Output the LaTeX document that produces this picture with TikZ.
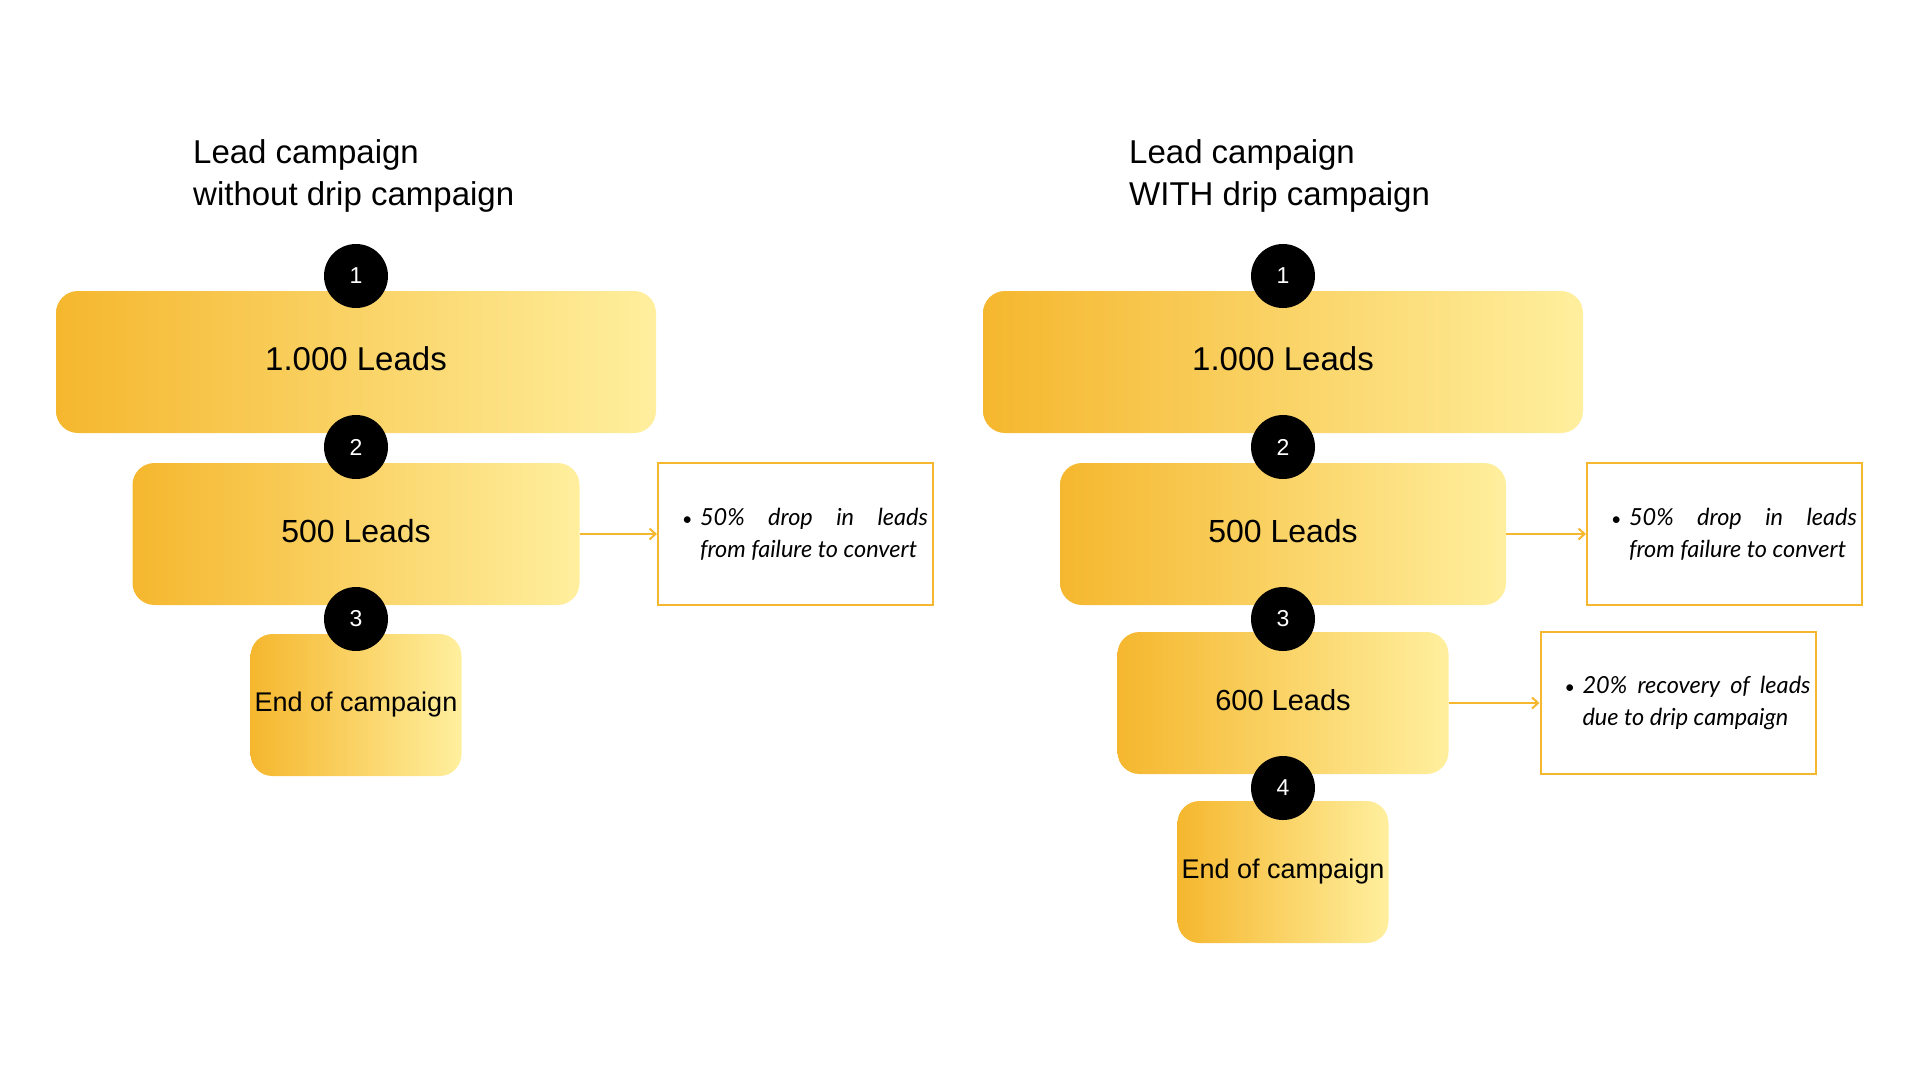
\documentclass[tikz,border=0pt]{standalone}
\usepackage{fontspec}
\setmainfont{Liberation Sans}
\newfontfamily\notefont{Lato}
\usetikzlibrary{arrows.meta}
\definecolor{leadorange}{RGB}{245,183,46}
\definecolor{leadyellow}{RGB}{255,239,158}
\newcommand{\notedot}{\makebox[18pt][l]{\fontsize{18}{18}\selectfont\textbullet}}

\begin{document}
\begin{tikzpicture}[x=1pt,y=-1pt]
\tikzstyle{every node}+=[inner sep=0pt]
\tikzstyle{stage}=[rounded corners=22pt, left color=leadorange, right color=leadyellow, text=black, minimum height=142pt]
\tikzstyle{leads}=[stage, text depth=7pt]
\tikzstyle{num}=[circle, fill=black, text=white, minimum size=64pt, font=\fontsize{23}{28}\selectfont]
\tikzstyle{note}=[draw=leadorange, line width=2pt, minimum width=275pt, minimum height=142pt, font=\notefont\itshape\fontsize{23.5}{32}\selectfont]
\tikzstyle{flow}=[draw=leadorange, line width=2pt, -{Straight Barb[length=6pt,width=11pt]}]
\tikzstyle{heading}=[anchor=base west, align=left, font=\fontsize{33}{42}\selectfont]
\useasboundingbox (0,0) rectangle (1920,1080);
\node[heading] (titleA) at (193,205) {Lead campaign\\without drip campaign};
\node[leads, minimum width=600pt, font=\fontsize{33}{40}\selectfont] (leadsA) at (356,362) {1.000 Leads};
\node[leads, minimum width=447pt, font=\fontsize{32}{40}\selectfont] (fiveA) at (356,534) {500 Leads};
\node[stage, minimum width=211pt, font=\fontsize{27}{34}\selectfont] (endA) at (356,705) {End of campaign};
\node[note] (dropA) at (795.5,534) {\hspace{19pt}\parbox{246pt}{\hangindent=18pt\hangafter=1\noindent\notedot 50\% drop in leads\linebreak from failure to convert}};
\draw[flow] (fiveA) -- (dropA);
\node[num] (oneA) at (356,276) {1};
\node[num] (twoA) at (356,447) {2};
\node[num] (threeA) at (356,619) {3};
\node[heading] (titleB) at (1129,205) {Lead campaign\\WITH drip campaign};
\node[leads, minimum width=600pt, font=\fontsize{33}{40}\selectfont] (leadsB) at (1283,362) {1.000 Leads};
\node[leads, minimum width=446pt, font=\fontsize{32}{40}\selectfont] (fiveB) at (1283,534) {500 Leads};
\node[leads, minimum width=331pt, font=\fontsize{29}{36}\selectfont] (sixB) at (1283,703) {600 Leads};
\node[stage, minimum width=211pt, font=\fontsize{27}{34}\selectfont] (endB) at (1283,872) {End of campaign};
\node[note] (dropB) at (1724.5,534) {\hspace{19pt}\parbox{246pt}{\hangindent=18pt\hangafter=1\noindent\notedot 50\% drop in leads\linebreak from failure to convert}};
\node[note] (recovB) at (1678,703) {\hspace{19pt}\parbox{246pt}{\hangindent=18pt\hangafter=1\noindent\notedot 20\% recovery of leads\linebreak due to drip campaign}};
\draw[flow] (fiveB) -- (dropB);
\draw[flow] (sixB) -- (recovB);
\node[num] (oneB) at (1283,276) {1};
\node[num] (twoB) at (1283,447) {2};
\node[num] (threeB) at (1283,619) {3};
\node[num] (fourB) at (1283,788) {4};
\end{tikzpicture}
\end{document}
